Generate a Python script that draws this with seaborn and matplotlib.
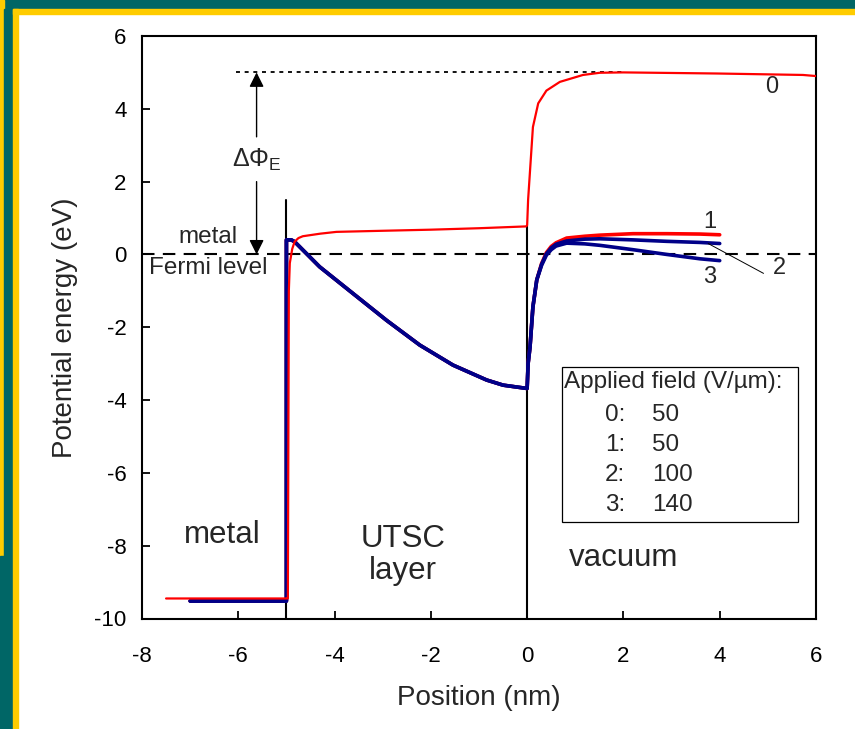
import matplotlib
matplotlib.use("Agg")
import matplotlib.pyplot as plt
import seaborn as sns
from matplotlib.patches import Rectangle

# curve 0: applied field 50 V/um, no band bending in the layer
x0 = [-7.5, -5.0, -4.97, -4.95, -4.93, -4.88, -4.83, -4.75, -4.66, -4.3, -3.96, -3.0, -2.0, -1.0, -0.02,
      0.0, 0.02, 0.06, 0.12, 0.23, 0.4, 0.68, 1.16, 1.51, 2.0, 3.94, 5.73, 6.0]
y0 = [-9.45, -9.45, -9.45, -1.0, -0.24, 0.15, 0.35, 0.45, 0.5, 0.57, 0.62, 0.65, 0.68, 0.72, 0.77,
      0.8, 1.5, 2.3, 3.5, 4.15, 4.5, 4.74, 4.93, 4.99, 5.0, 4.97, 4.93, 4.9]

# shared part of curves 1-3 (metal + UTSC layer + first rise in vacuum)
x_common = [-7.0, -5.0, -5.0, -4.9, -4.83, -4.31, -3.62, -2.92, -2.23, -1.54, -0.84, -0.5, -0.01,
            0.0, 0.02, 0.06, 0.12, 0.2]
y_common = [-9.52, -9.52, 0.4, 0.4, 0.35, -0.34, -1.07, -1.81, -2.49, -3.04, -3.45, -3.59, -3.68,
            -3.68, -3.0, -2.54, -1.44, -0.7]

x_vac = [0.3, 0.4, 0.5, 0.6, 0.82, 1.2, 1.51, 2.2, 2.9, 3.59, 4.0]
y1_vac = [-0.25, 0.05, 0.22, 0.32, 0.45, 0.5, 0.53, 0.57, 0.57, 0.56, 0.54]
y2_vac = [-0.27, 0.02, 0.18, 0.28, 0.37, 0.42, 0.43, 0.4, 0.36, 0.33, 0.3]
y3_vac = [-0.3, -0.02, 0.13, 0.23, 0.31, 0.29, 0.25, 0.13, 0.0, -0.12, -0.17]

field_ids = ["0:", "1:", "2:", "3:"]
field_values = ["50", "50", "100", "140"]

RED = "#ff0000"
BLUE = "#000088"
TEAL = "#006666"
YELLOW = "#ffcc00"

sns.set_style("ticks")
plt.rcParams["font.family"] = ["Liberation Sans", "DejaVu Sans"]
plt.rcParams["mathtext.fontset"] = "custom"
plt.rcParams["mathtext.rm"] = "Liberation Sans"
plt.rcParams["axes.unicode_minus"] = False

fig = plt.figure(figsize=(8.55, 7.29), dpi=100)
fig.patch.set_facecolor("white")

W, H = 855.0, 729.0


def frame_rect(x, y, w, h, color):
    # pixel box measured from the top-left corner
    fig.patches.append(Rectangle((x / W, 1 - (y + h) / H), w / W, h / H,
                                 transform=fig.transFigure, color=color, zorder=-5))


frame_rect(4, 0, 851, 9, TEAL)
frame_rect(0, 0, 4, 556, YELLOW)
frame_rect(0, 556, 4, 173, TEAL)
frame_rect(4, 9, 9, 720, TEAL)
frame_rect(13, 9, 5, 720, YELLOW)
frame_rect(13, 9, 842, 5, YELLOW)

ax = fig.add_axes([142 / W, 1 - 618.5 / H, 674 / W, 582.5 / H])
ax.set_facecolor("white")

x1 = x_common + x_vac
sns.lineplot(x=x1, y=y_common + y1_vac, sort=False, estimator=None, color=RED, lw=2.6, ax=ax, zorder=3)
sns.lineplot(x=x1, y=y_common + y2_vac, sort=False, estimator=None, color=BLUE, lw=2.6, ax=ax, zorder=4)
sns.lineplot(x=x1, y=y_common + y3_vac, sort=False, estimator=None, color=BLUE, lw=2.6, ax=ax, zorder=4)
sns.lineplot(x=x0, y=y0, sort=False, estimator=None, color=RED, lw=1.6, ax=ax, zorder=5)

# interfaces, Fermi level and vacuum level
ax.plot([-5, -5], [-10, 1.5], color="black", lw=1.5, zorder=2)
ax.plot([0, 0], [-10, 0.78], color="black", lw=1.5, zorder=2)
ax.axhline(0, color="black", lw=1.5, dashes=(6, 4), zorder=1)
ax.plot([-6.04, 2.0], [5, 5], color="black", lw=1.3, dashes=(2.2, 2.6), zorder=1)

# work function arrow
ax.annotate("", xy=(-5.62, 5.0), xytext=(-5.62, 3.23),
            arrowprops=dict(arrowstyle="-|>", mutation_scale=22, lw=1, color="black", shrinkA=0, shrinkB=0))
ax.annotate("", xy=(-5.62, 0.0), xytext=(-5.62, 2.0),
            arrowprops=dict(arrowstyle="-|>", mutation_scale=22, lw=1, color="black", shrinkA=0, shrinkB=0))
ax.text(-5.62, 2.6, r"$\Delta\Phi_{\mathrm{E}}$", ha="center", va="center", fontsize=18)

ax.text(-6.62, 0.47, "metal", ha="center", va="center", fontsize=17.5)
ax.text(-6.62, -0.38, "Fermi level", ha="center", va="center", fontsize=17.5)

ax.text(-6.34, -7.7, "metal", ha="center", va="center", fontsize=22.5)
ax.text(-2.58, -8.25, "UTSC\nlayer", ha="center", va="center", fontsize=22.5, linespacing=1.1)
ax.text(2.01, -8.34, "vacuum", ha="center", va="center", fontsize=22.5)

# curve labels
ax.text(5.08, 4.6, "0", ha="center", va="center", fontsize=17)
ax.text(3.8, 0.9, "1", ha="center", va="center", fontsize=17)
ax.text(3.8, -0.62, "3", ha="center", va="center", fontsize=17)
ax.text(5.25, -0.38, "2", ha="center", va="center", fontsize=17)
ax.plot([3.76, 4.91], [0.30, -0.52], color="black", lw=0.7, zorder=6)

# field box
ax.add_patch(Rectangle((0.715, -7.35), 4.915, 4.26, fill=False, edgecolor="black", lw=0.9, zorder=6))
ax.text(0.77, -3.5, "Applied field (V/\u00b5m):", ha="left", va="center", fontsize=17.5)
for i, (fid, fval) in enumerate(zip(field_ids, field_values)):
    yy = -4.42 - 0.82 * i
    ax.text(1.62, yy, fid, ha="left", va="center", fontsize=17.5)
    ax.text(2.59, yy, fval, ha="left", va="center", fontsize=17.5)

ax.set_xlim(-8, 6)
ax.set_ylim(-10, 6)
ax.set_xticks(range(-8, 7, 2))
ax.set_yticks(range(-10, 7, 2))
ax.tick_params(direction="in", length=6, width=1.3, labelsize=16, colors="black")
ax.tick_params(axis="x", pad=20)
ax.tick_params(axis="y", pad=11)
for side in ax.spines.values():
    side.set_linewidth(1.5)
    side.set_color("black")
ax.set_xlabel("Position (nm)", fontsize=20, labelpad=13)
ax.set_ylabel("Potential energy (eV)", fontsize=20, labelpad=12)

fig.savefig("out.png", dpi=100, facecolor=fig.get_facecolor())
